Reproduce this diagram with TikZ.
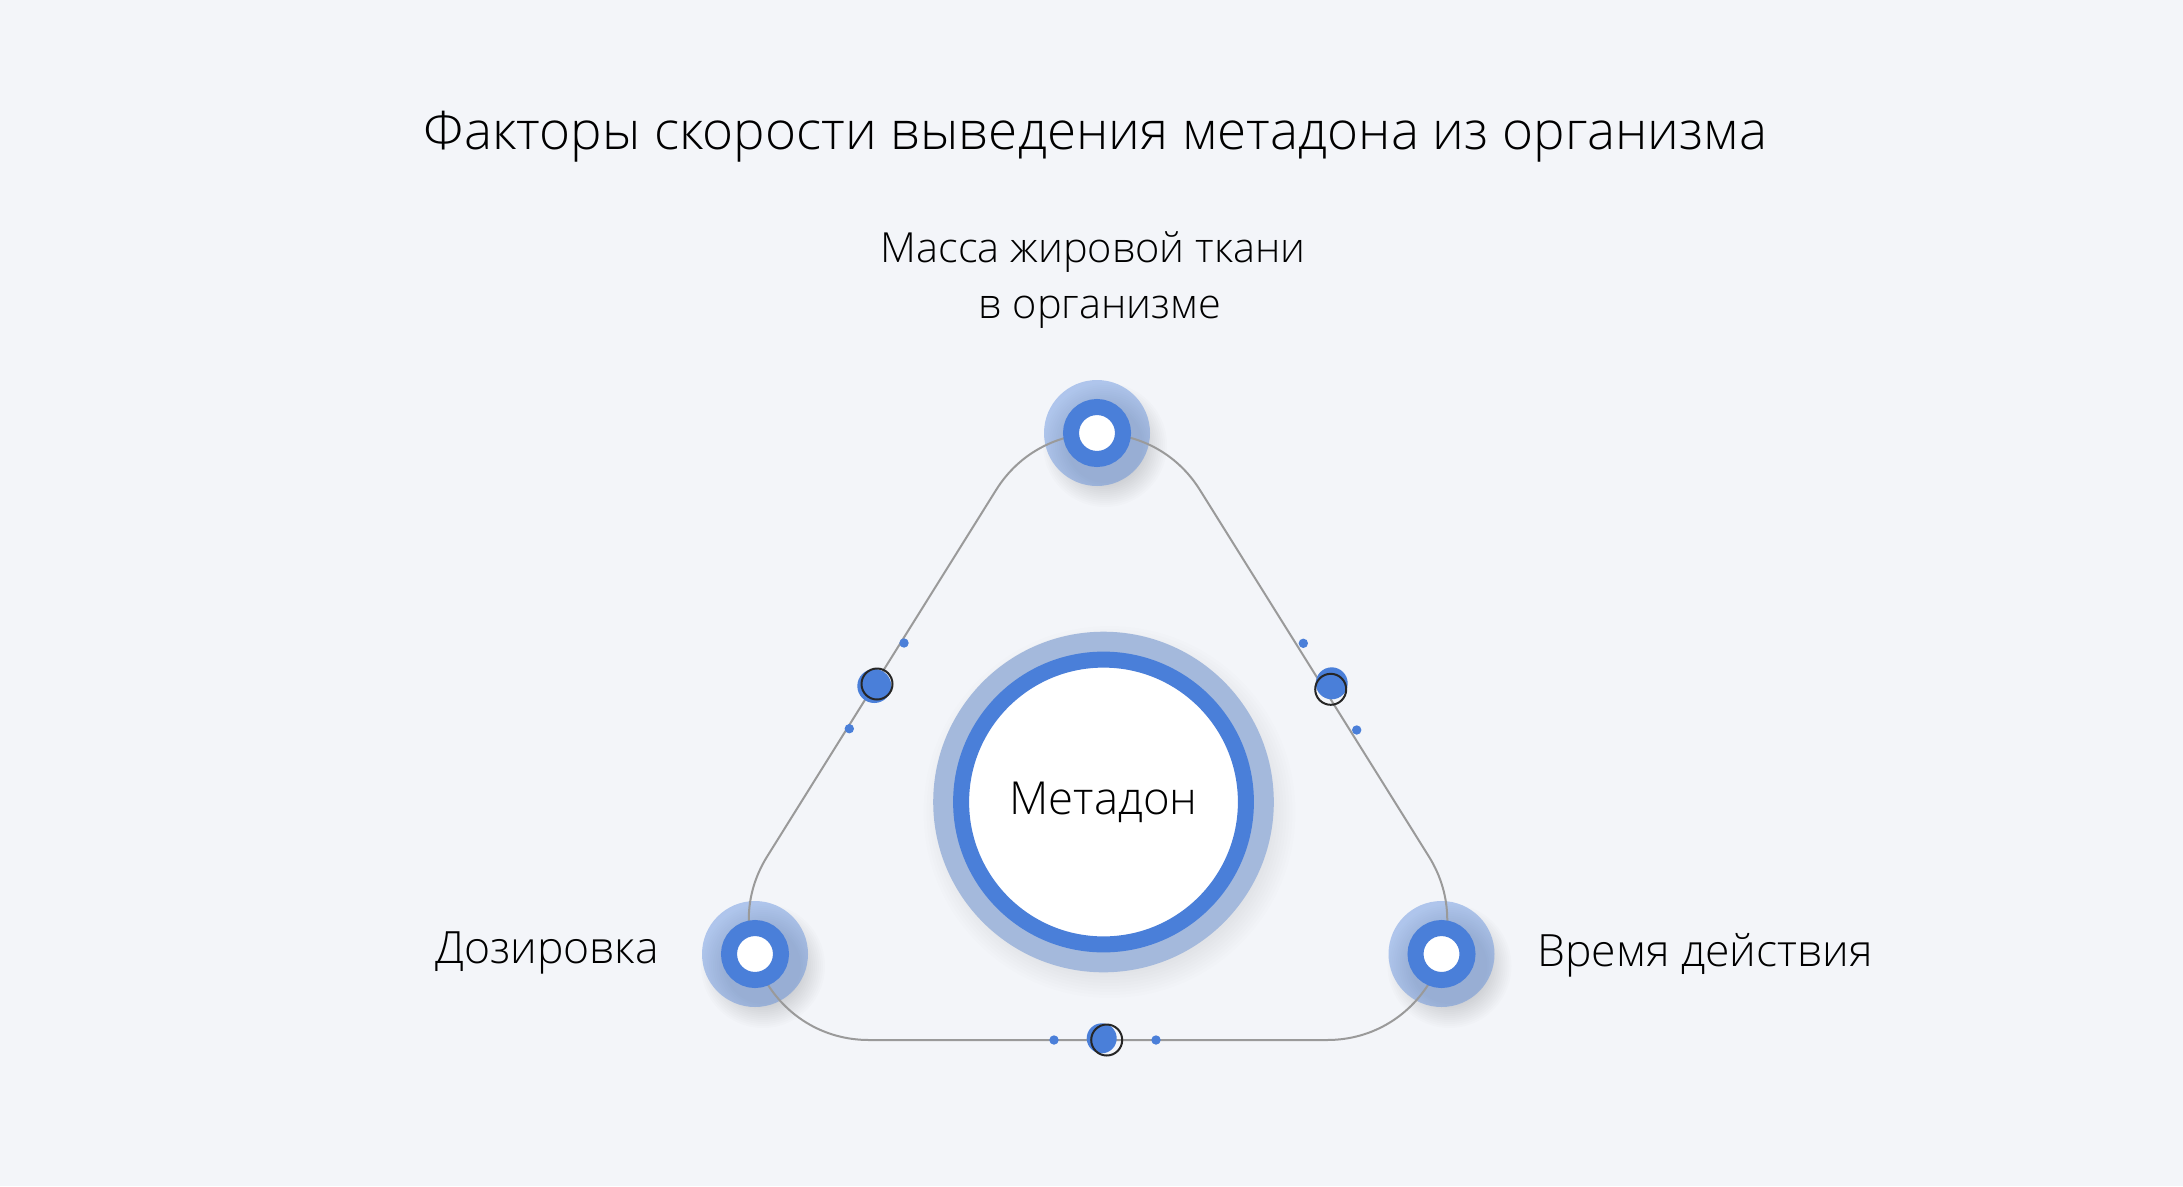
\documentclass[tikz,border=0pt]{standalone}
\usepackage{fontspec}
\setmainfont{Open Sans Light}
\definecolor{bgcol}{HTML}{F3F5F9}
\definecolor{ringblue}{HTML}{4A7FD9}
\definecolor{paleblue}{HTML}{A4B9DC}
\definecolor{linegray}{HTML}{9A9A9A}
\begin{document}
\begin{tikzpicture}[x=1pt,y=-1pt]
\tikzstyle{halo}=[circle, inner sep=0pt, minimum size=106pt, fill=ringblue, fill opacity=0.4]
\tikzstyle{core}=[circle, inner sep=0pt, minimum size=52pt, fill=white, draw=ringblue, line width=16pt]
\tikzstyle{bead}=[circle, inner sep=0pt, minimum size=33pt, fill=ringblue]
\tikzstyle{beadring}=[circle, inner sep=0pt, minimum size=31pt, draw=black!85, line width=2pt]
\tikzstyle{dot}=[circle, inner sep=0pt, minimum size=9.4pt, fill=ringblue]
\tikzstyle{lbl}=[inner sep=0pt, font=\fontsize{44.5}{50}\selectfont]
\fill[bgcol] (0,0) rectangle (2183,1186);
\useasboundingbox (0,0) rectangle (2183,1186);
% title
\node (title) [inner sep=0pt, anchor=base, font=\fontsize{53}{60}\selectfont] at (1095.5,149) {Факторы скорости выведения метадона из организма};
% shadows
\foreach \n/\p in {1097/433,755/954,1441.5/954}
  \foreach \r in {38,40,...,62}
    \fill[black, opacity=0.012] (\n+8,\p+12) circle (\r);
\foreach \r in {150,153,...,186}
  \fill[black, opacity=0.009] (1109.5,812) circle (\r);
% outer halos
\node (massa) [halo] at (1097,433) {};
\node (doza) [halo] at (755,954) {};
\node (vremya) [halo] at (1441.5,954) {};
% loop
\draw[linegray, line width=2pt] (869,1040) .. controls (774.7,1040) and (717.2,936.4) .. (767.2,856.4)
  -- (996.2,489.8) .. controls (1043.2,414.6) and (1152.8,414.6) .. (1199.8,489.8)
  -- (1428.8,856.4) .. controls (1478.8,936.4) and (1421.3,1040) .. (1327,1040) -- cycle;
\node [core] at (massa) {};
\node [core] at (doza) {};
\node [core] at (vremya) {};
% centre
\fill[paleblue] (1103.5,802) circle (170.3);
\node (metadon) [circle, inner sep=0pt, minimum size=284.8pt, fill=white, draw=ringblue, line width=16pt, font=\fontsize{45.5}{50}\selectfont] at (1103.5,802) {Метадон};
% beads on the loop
\node (bl) [bead, minimum size=34pt] at (874.3,686) {};
\node [beadring] at (877,684) {};
\node [dot] at (904,643) {};
\node [dot] at (849.3,728.7) {};
\node (br) [bead, minimum size=32pt] at (1331.7,683.3) {};
\node [beadring] at (1330.7,689.3) {};
\node [dot] at (1303.3,643.3) {};
\node [dot] at (1356.7,730) {};
\node (bb) [bead, minimum size=30pt] at (1101.7,1038.3) {};
\node [beadring] at (1106.7,1040) {};
\node [dot] at (1054,1040) {};
\node [dot] at (1156,1040) {};
% labels
\node (massalbl) [lbl, anchor=north, align=center, font=\fontsize{41.5}{56}\selectfont] at (1093,231) {Масса жировой ткани\\\hspace*{14pt}в организме};
\node (dozalbl) [lbl, anchor=base east] at (659,963) {Дозировка};
\node (vremyalbl) [lbl, anchor=base west] at (1537,966) {Время действия};
\end{tikzpicture}
\end{document}
